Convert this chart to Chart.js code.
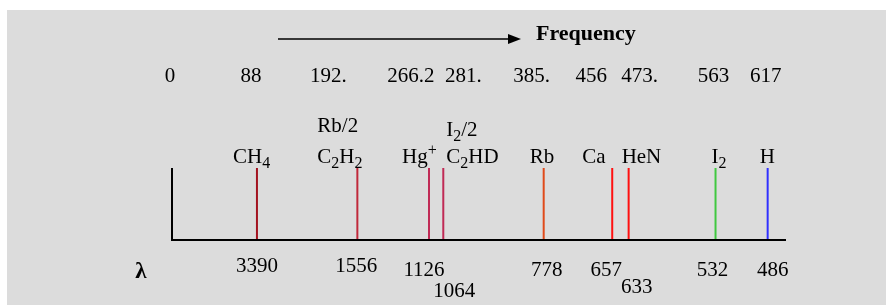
<!DOCTYPE html>
<html>
<head>
<meta charset="utf-8">
<script src="https://cdn.jsdelivr.net/npm/chart.js@4"></script>
<style>
    html, body { margin: 0; padding: 0; background: #fff; }
    canvas { display: block; }
</style>
</head>
<body>
<canvas id="spectrum" width="886" height="305"></canvas>
<script>
// frequencies (THz) of each reference line, and the matching labels
const freqs = [88, 192, 266.2, 281, 385, 456, 473, 563, 617];
const species = ["CH_4", "Rb/2\nC_2H_2", "Hg^+", "I_2/2\nC_2HD", "Rb", "Ca", "HeN", "I_2", "H"];
const wavelengths = ["3390", "1556", "1126", "1064", "778", "657", "633", "532", "486"];
const freqTicks = [0, 88, 192, 266.2, 281, 385, 456, 473, 563, 617];
const freqTickLabels = ["0", "88", "192.", "266.2", "281.", "385.", "456", "473.", "563", "617"];

const colors = ["#a3121f", "#c0283a", "#c02a55", "#c02a55", "#e04a1a", "#ff1010", "#ff1010", "#40c840", "#3030ff"];

// hand placement of the text, like in the original drawing
const tickNudge = [-2, -6, -29, -18, 20, -12, -21, 11, -2, -2];
const nameNudge = [-24, -40, -27, 3, -14, -30, -7, -4, -8];
const nameLead = [0, 31, 0, 27, 0, 0, 0, 0, 0];
const waveNudge = [0, -1, -5, 11, 3, -6, 8, -3, 5];
const waveDrop = [32, 32, 36, 57, 36, 36, 53, 36, 36];

const serif = '"Liberation Serif", "Times New Roman", serif';

// "_" = subscript next char, "^" = superscript next char
function richText(ctx, str, x, y, size) {
    let cx = x;
    for (let i = 0; i < str.length; i++) {
        let ch = str[i];
        let dy = 0;
        let sz = size;
        if ((ch === "_" || ch === "^") && i + 1 < str.length) {
            dy = ch === "_" ? size * 0.22 : -size * 0.4;
            sz = Math.round(size * 0.74);
            ch = str[++i];
        }
        ctx.font = sz + "px " + serif;
        ctx.fillText(ch, cx, y + dy);
        cx += ctx.measureText(ch).width;
    }
}

const decor = {
    id: "decor",
    beforeDraw(chart) {
        const ctx = chart.ctx;
        ctx.save();
        ctx.fillStyle = "#dcdcdc";
        ctx.fillRect(7, 10, chart.width - 7, chart.height - 10);
        ctx.restore();
    },
    afterDraw(chart) {
        const ctx = chart.ctx;
        const area = chart.chartArea;
        const x = chart.scales.x;
        ctx.save();

        // axes
        ctx.strokeStyle = "#000";
        ctx.lineWidth = 2;
        ctx.beginPath();
        ctx.moveTo(area.left, area.top);
        ctx.lineTo(area.left, area.bottom);
        ctx.lineTo(area.right, area.bottom);
        ctx.stroke();

        // frequency arrow
        ctx.lineWidth = 1.5;
        ctx.beginPath();
        ctx.moveTo(278, 39);
        ctx.lineTo(510, 39);
        ctx.stroke();
        ctx.fillStyle = "#000";
        ctx.beginPath();
        ctx.moveTo(508, 34);
        ctx.lineTo(521, 39);
        ctx.lineTo(508, 44);
        ctx.closePath();
        ctx.fill();
        ctx.textAlign = "left";
        ctx.textBaseline = "alphabetic";
        ctx.font = "bold 22px " + serif;
        ctx.fillText("Frequency", 536, 40);

        // lambda
        ctx.textAlign = "center";
        ctx.font = "bold 23px " + serif;
        ctx.fillText("λ", 141, 278);

        // frequency row
        ctx.font = "21px " + serif;
        for (let i = 0; i < freqTicks.length; i++) {
            ctx.fillText(freqTickLabels[i], x.getPixelForValue(freqTicks[i]) + tickNudge[i], 82);
        }

        // wavelength row
        for (let i = 0; i < freqs.length; i++) {
            ctx.fillText(wavelengths[i], x.getPixelForValue(freqs[i]) + waveNudge[i], area.bottom + waveDrop[i]);
        }

        // species names
        ctx.textAlign = "left";
        for (let i = 0; i < freqs.length; i++) {
            const rows = species[i].split("\n");
            const px = x.getPixelForValue(freqs[i]) + nameNudge[i];
            let base = 163 - nameLead[i] * (rows.length - 1);
            rows.forEach(r => {
                richText(ctx, r, px, base, 21);
                base += nameLead[i];
            });
        }
        ctx.restore();
    }
};

window.addEventListener("DOMContentLoaded", () => {
    const datasets = freqs.map((f, i) => ({
        label: species[i],
        data: [{x: f, y: 0}, {x: f, y: 1}],
        borderColor: colors[i],
        borderWidth: 2,
        pointRadius: 0,
        showLine: true,
        clip: false
    }));
    new Chart(document.getElementById("spectrum"), {
        type: "scatter",
        data: {datasets: datasets},
        options: {
            responsive: false,
            animation: false,
            layout: {padding: {left: 172, right: 100, top: 168, bottom: 65}},
            scales: {
                x: {type: "linear", min: 0, max: 636, display: false},
                y: {min: 0, max: 1, display: false}
            },
            plugins: {legend: {display: false}, tooltip: {enabled: false}}
        },
        plugins: [decor]
    });
});
</script>
</body>
</html>
